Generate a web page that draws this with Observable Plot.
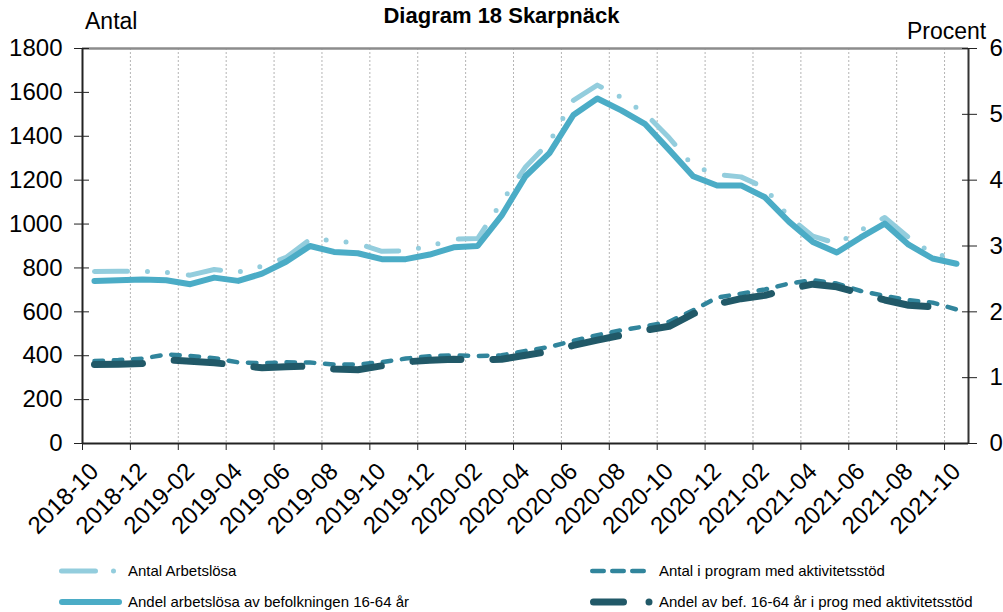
<!DOCTYPE html>
<html><head><meta charset="utf-8">
<script src="https://cdn.jsdelivr.net/npm/d3@7"></script>
<script src="https://cdn.jsdelivr.net/npm/@observablehq/plot@0.6"></script>
<style>
body{margin:0;background:#fff;font-family:"Liberation Sans",Arial,sans-serif;}
#wrap{position:relative;width:1003px;height:612px;overflow:hidden;background:#fff}
#chart{position:absolute;left:0;top:0}
.t{position:absolute;white-space:nowrap;color:#000;line-height:1}
.lg{position:absolute;white-space:nowrap;color:#000;font-size:15px;line-height:1}
</style></head><body>
<div id="wrap">
  <div id="chart"></div>
  <div class="t" style="left:0;width:1003px;text-align:center;top:5px;font-weight:bold;font-size:22px">Diagram 18 Skarpnäck</div>
  <div class="t" style="left:85px;top:10px;font-size:23px">Antal</div>
  <div class="t" style="left:907px;top:20px;font-size:23px">Procent</div>
</div>
<script>
// Months (categories)
const months = ["2018-10","2018-11","2018-12","2019-01","2019-02","2019-03","2019-04","2019-05","2019-06","2019-07","2019-08","2019-09","2019-10","2019-11","2019-12","2020-01","2020-02","2020-03","2020-04","2020-05","2020-06","2020-07","2020-08","2020-09","2020-10","2020-11","2020-12","2021-01","2021-02","2021-03","2021-04","2021-05","2021-06","2021-07","2021-08","2021-09","2021-10"];
// Left axis (Antal)
const antalArbetslosa = [784,785,785,780,767,793,781,808,848,930,926,911,876,878,900,931,934,1100,1260,1374,1564,1633,1577,1504,1393,1265,1226,1215,1165,1033,945,911,972,1030,939,865,843];
const antalProgram = [376,380,387,406,399,389,370,366,370,369,360,360,371,387,398,402,399,402,422,440,468,494,516,534,555,607,665,683,702,729,744,729,695,673,653,642,611];
// Right axis (Procent)
const andelArbetslosa = [2.47,2.48,2.49,2.48,2.42,2.52,2.47,2.58,2.76,3.00,2.91,2.89,2.80,2.80,2.87,2.98,3.00,3.46,4.06,4.41,4.99,5.24,5.06,4.85,4.46,4.06,3.92,3.92,3.74,3.37,3.06,2.90,3.13,3.34,3.02,2.81,2.73];
const andelProgram = [1.20,1.205,1.215,1.27,1.25,1.225,1.19,1.15,1.165,1.175,1.13,1.12,1.18,1.24,1.265,1.28,1.27,1.28,1.34,1.40,1.49,1.57,1.645,1.72,1.78,1.97,2.12,2.20,2.25,2.35,2.42,2.38,2.28,2.18,2.10,2.075,2.05];
// Axis ticks
const leftTicks = [0,200,400,600,800,1000,1200,1400,1600,1800];
const rightTicks = [0,1,2,3,4,5,6];
const seriesNames = ["Antal Arbetslösa","Antal i program med aktivitetsstöd","Andel arbetslösa av befolkningen 16-64 år","Andel av bef. 16-64 år i prog med aktivitetsstöd"];
const colors = ["#93CDDD","#31859C","#4BACC6","#215968"];

const yMax = 1800, pMax = 6, ratio = yMax / pMax;
const rows = months.map((m, i) => ({
  x: i + 0.5,
  a: antalArbetslosa[i],
  c: antalProgram[i],
  b: andelArbetslosa[i] * ratio,
  d: andelProgram[i] * ratio
}));
const xTicks = d3.range(0, months.length, 2);
const yTicksRight = rightTicks.map(p => p * ratio);

const chart = Plot.plot({
  width: 1003, height: 545,
  marginLeft: 82, marginRight: 35, marginTop: 48, marginBottom: 102,
  style: {fontFamily: '"Liberation Sans", Arial, sans-serif', fontSize: "24px", color: "#000", background: "transparent"},
  x: {domain: [0, months.length], axis: null},
  y: {domain: [0, yMax], axis: null},
  marks: [
    Plot.gridX(xTicks, {stroke: "#b4b4b4", strokeOpacity: 1, strokeDasharray: "2,2", strokeWidth: 1}),
    Plot.line(rows, {x: "x", y: "a", stroke: colors[0], strokeWidth: 5, strokeDasharray: "33,20,0,20,0,21", strokeLinecap: "round", strokeLinejoin: "round"}),
    Plot.line(rows, {x: "x", y: "c", stroke: colors[1], strokeWidth: 4.5, strokeDasharray: "8.5,10.8", strokeLinecap: "round", strokeLinejoin: "round"}),
    Plot.line(rows, {x: "x", y: "b", stroke: colors[2], strokeWidth: 6, strokeLinecap: "round", strokeLinejoin: "round"}),
    Plot.line(rows, {x: "x", y: "d", stroke: colors[3], strokeWidth: 7, strokeDasharray: "48,32", strokeLinecap: "round", strokeLinejoin: "round"}),
    Plot.ruleY([yMax], {stroke: "#8c8c8c", strokeWidth: 2.5}),
    Plot.ruleX([0], {stroke: "#222", strokeWidth: 2}),
    Plot.ruleX([months.length], {stroke: "#333", strokeWidth: 2}),
    Plot.ruleY([0], {stroke: "#222", strokeWidth: 2}),
    Plot.axisY(leftTicks, {anchor: "left", tickSize: 8, tickPadding: 12, tickFormat: d => String(d), label: null, stroke: "#222"}),
    Plot.axisY(leftTicks, {anchor: "left", tickSize: -7, tickFormat: () => "", label: null, stroke: "#222"}),
    Plot.axisY(yTicksRight, {anchor: "right", tickSize: 8, tickPadding: 13, tickFormat: d => String(d / ratio), label: null, stroke: "#222"}),
    Plot.axisY(yTicksRight, {anchor: "right", tickSize: -7, tickFormat: () => "", label: null, stroke: "#222"}),
    Plot.axisX(xTicks, {anchor: "bottom", tickSize: 7, tickPadding: 5, tickRotate: -45, tickFormat: i => months[i], label: null, stroke: "#222"})
  ]
});
document.getElementById("chart").appendChild(chart);
// shift rotated x tick labels to match reference placement
d3.select(chart).selectAll("g[aria-label='x-axis tick label']").attr("transform", function() {
  const t = this.getAttribute("transform") || "";
  return t + " translate(12,12)";
});

// Legend
const wrap = document.getElementById("wrap");
const lsvg = d3.select(wrap).append("svg")
  .attr("width", 1003).attr("height", 60)
  .style("position", "absolute").style("left", "0px").style("top", "550px");
const legendItems = [
  {name: seriesNames[0], color: colors[0], w: 5, dash: "34,18,0,100", x0: 61.5, x1: 120, y: 21, tx: 128},
  {name: seriesNames[2], color: colors[2], w: 6, dash: null, x0: 62, x1: 119, y: 52, tx: 128},
  {name: seriesNames[1], color: colors[1], w: 4.5, dash: "11.5,8.5,11.5,8.5,11.5,12.25,0,100", x0: 592.25, x1: 655, y: 21, tx: 659},
  {name: seriesNames[3], color: colors[3], w: 7, dash: "30,25.5,0,100", x0: 593.5, x1: 652, y: 52, tx: 659}
];
legendItems.forEach(it => {
  const ln = lsvg.append("line")
    .attr("x1", it.x0).attr("x2", it.x1).attr("y1", it.y).attr("y2", it.y)
    .attr("stroke", it.color).attr("stroke-width", it.w).attr("stroke-linecap", "round");
  if (it.dash) ln.attr("stroke-dasharray", it.dash);
  const d = document.createElement("div");
  d.className = "lg";
  d.textContent = it.name;
  d.style.left = it.tx + "px";
  d.style.top = (550 + it.y - 8) + "px";
  wrap.appendChild(d);
});
</script>
</body></html>
